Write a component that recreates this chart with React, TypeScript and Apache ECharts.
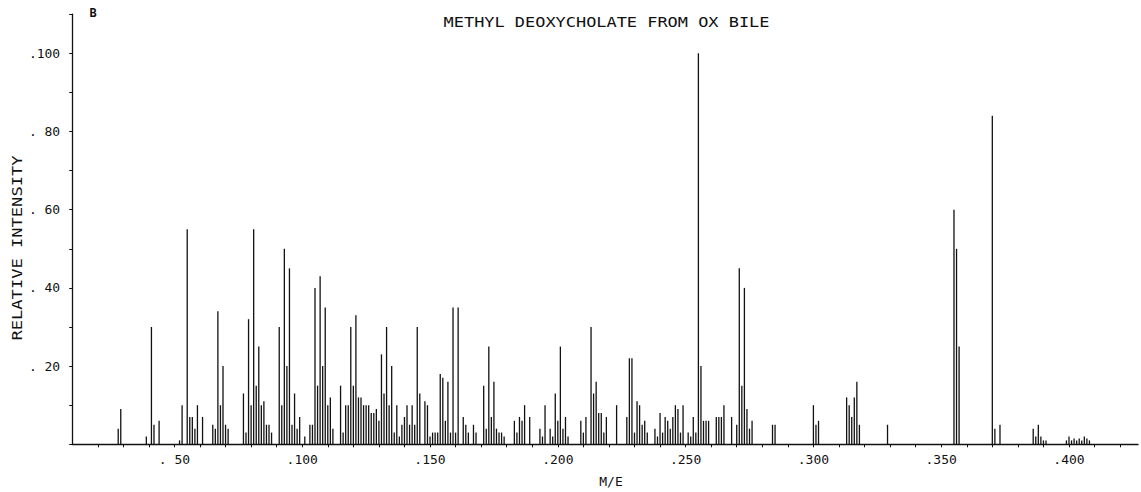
import React, { useEffect, useRef } from 'react';
import * as echarts from 'echarts';

// Mass spectrum of methyl deoxycholate (ox bile): m/z and relative intensity (%)
const massToCharge = [
  28, 29, 39, 41, 42, 44, 52, 53, 55, 56, 57, 58, 59, 61, 65, 66, 67, 68, 69, 70, 71,
  77, 78, 79, 80, 81, 82, 83, 84, 85, 86, 87, 88, 91, 92, 93, 94, 95, 96, 97, 98, 99,
  101, 103, 104, 105, 106, 107, 108, 109, 110, 111, 112, 115, 116, 117, 118, 119, 120,
  121, 122, 123, 124, 125, 126, 127, 128, 129, 130, 131, 132, 133, 134, 135, 136, 137,
  138, 139, 140, 141, 142, 143, 144, 145, 146, 148, 149, 150, 151, 152, 153, 154, 155,
  156, 157, 158, 159, 160, 161, 163, 164, 165, 167, 168, 171, 172, 173, 174, 175, 176,
  177, 178, 179, 183, 184, 185, 186, 187, 189, 193, 194, 195, 197, 198, 199, 200, 201,
  202, 203, 204, 209, 210, 211, 213, 214, 215, 216, 217, 218, 219, 223, 227, 228, 229,
  230, 231, 232, 233, 234, 235, 238, 239, 240, 241, 242, 243, 244, 245, 246, 247, 248,
  249, 251, 252, 253, 254, 255, 256, 257, 258, 259, 262, 263, 264, 265, 268, 270, 271,
  272, 273, 274, 275, 276, 284, 285, 300, 301, 302, 313, 314, 315, 316, 317, 318, 329,
  355, 356, 357, 370, 371, 373, 386, 387, 388, 389, 390, 391, 399, 400, 401, 402, 403,
  404, 405, 406, 407, 408,
];

const relIntensity = [
  4, 9, 2, 30, 5, 6, 1, 10, 55, 7, 7, 4, 10, 7, 5, 4, 34, 10, 20, 5, 4,
  13, 3, 32, 10, 55, 15, 25, 10, 11, 5, 5, 3, 30, 10, 50, 20, 45, 5, 13, 4, 7,
  2, 5, 5, 40, 15, 43, 20, 35, 10, 12, 4, 15, 3, 10, 10, 30, 15,
  33, 12, 12, 10, 10, 10, 8, 8, 9, 6, 23, 13, 30, 10, 20, 3, 10,
  2, 5, 7, 10, 5, 10, 5, 30, 13, 11, 10, 2, 3, 3, 3, 18, 17,
  6, 16, 3, 35, 3, 35, 7, 5, 3, 5, 3, 15, 4, 25, 7, 16, 4,
  3, 3, 2, 6, 3, 7, 6, 10, 7, 4, 2, 10, 4, 2, 13, 6, 25,
  4, 7, 2, 6, 3, 7, 30, 13, 16, 8, 8, 3, 7, 10, 7, 22, 22,
  3, 11, 10, 5, 6, 3, 4, 2, 8, 3, 7, 6, 4, 7, 10, 9, 3,
  10, 3, 2, 7, 3, 100, 20, 6, 6, 6, 7, 7, 7, 10, 7, 5, 45,
  15, 40, 9, 4, 6, 5, 5, 10, 5, 6, 12, 10, 7, 12, 16, 5, 5,
  60, 50, 25, 84, 4, 5, 4, 2, 5, 2, 1, 1, 1, 2, 1, 1.5, 1,
  1.5, 1, 2, 1.5, 1,
];

// Labelled tick positions on each axis
const xLabelValues = [50, 100, 150, 200, 250, 300, 350, 400];
const yLabelValues = [20, 40, 60, 80, 100];

const MONO = '"DejaVu Sans Mono", monospace';

const pad3 = (v: number) => {
  const s = String(v);
  return s.length >= 3 ? s : ' '.repeat(3 - s.length) + s;
};

export default function App() {
  const ref = useRef<HTMLDivElement>(null);

  useEffect(() => {
    if (!ref.current) return;
    const chart = echarts.init(ref.current, undefined, { renderer: 'svg' });

    const peaks = massToCharge.map((m, i) => [m, relIntensity[i]]);

    chart.setOption({
      animation: false,
      backgroundColor: '#ffffff',
      grid: { left: 72.2, right: 3, top: 14.2, bottom: 47.7, containLabel: false },
      xAxis: {
        type: 'value',
        min: 10,
        max: 427,
        interval: 10,
        splitLine: { show: false },
        axisLine: { show: true, lineStyle: { color: '#111', width: 1.3 } },
        axisTick: { show: true, length: 3, lineStyle: { color: '#111', width: 1 } },
        axisLabel: {
          margin: 9,
          color: '#111',
          fontFamily: MONO,
          fontSize: 13,
          showMinLabel: false,
          showMaxLabel: false,
          formatter: (v: number) => (xLabelValues.includes(v) ? '.' + pad3(v) : ''),
        },
      },
      yAxis: {
        type: 'value',
        min: 0,
        max: 110,
        interval: 10,
        splitLine: { show: false },
        axisLine: { show: true, lineStyle: { color: '#111', width: 1.3 } },
        axisTick: { show: true, length: 3, lineStyle: { color: '#111', width: 1 } },
        axisLabel: {
          margin: 12,
          color: '#111',
          fontFamily: MONO,
          fontSize: 13,
          formatter: (v: number) => (yLabelValues.includes(v) ? '.' + pad3(v) : ''),
        },
      },
      series: [
        {
          type: 'bar',
          data: peaks,
          barWidth: 1.3,
          itemStyle: { color: '#111' },
          silent: true,
        },
      ],
      graphic: [
        {
          type: 'text',
          x: 606.5,
          y: 22,
          scaleX: 1.21,
          style: {
            text: 'METHYL DEOXYCHOLATE FROM OX BILE',
            font: `14px ${MONO}`,
            fill: '#111',
            align: 'center',
            verticalAlign: 'middle',
          },
        },
        {
          type: 'text',
          x: 18,
          y: 248,
          rotation: Math.PI / 2,
          scaleX: 1.22,
          style: {
            text: 'RELATIVE INTENSITY',
            font: `14px ${MONO}`,
            fill: '#111',
            align: 'center',
            verticalAlign: 'middle',
          },
        },
        {
          type: 'text',
          x: 611,
          y: 481,
          style: {
            text: 'M/E',
            font: `13px ${MONO}`,
            fill: '#111',
            align: 'center',
            verticalAlign: 'middle',
          },
        },
        {
          type: 'text',
          x: 93,
          y: 13,
          style: {
            text: 'B',
            font: `bold 12px ${MONO}`,
            fill: '#111',
            align: 'center',
            verticalAlign: 'middle',
          },
        },
      ],
    });

    return () => chart.dispose();
  }, []);

  return (
    <div
      ref={ref}
      style={{ position: 'absolute', left: 0, top: 0, width: 1141, height: 492, background: '#fff' }}
    />
  );
}
